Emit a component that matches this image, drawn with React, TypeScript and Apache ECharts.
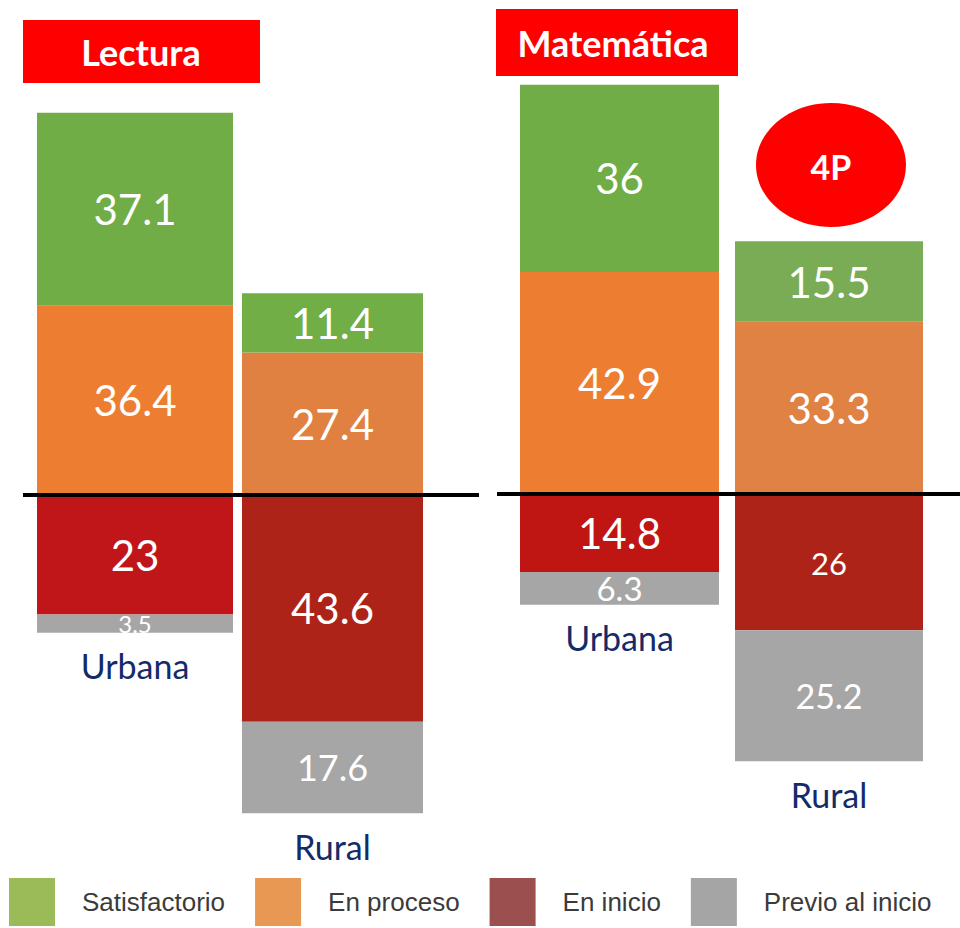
import React, { useEffect, useRef } from "react";
import * as echarts from "echarts";

// ---- data ----
const levels = ["Satisfactorio", "En proceso", "En inicio", "Previo al inicio"];
const subjects = ["Lectura", "Matemática"];
const areas = ["Urbana", "Rural"];
// order of bars: Lectura-Urbana, Lectura-Rural, Matemática-Urbana, Matemática-Rural
const satisfactorio = [37.1, 11.4, 36, 15.5];
const enProceso = [36.4, 27.4, 42.9, 33.3];
const enInicio = [23, 43.6, 14.8, 26];
const previo = [3.5, 17.6, 6.3, 25.2];
const badgeText = "4P";

// ---- styles ----
const barColors = [
  { sat: "#70AD47", proc: "#ED7D31", ini: "#C0161A", prev: "#A6A6A6" },
  { sat: "#72AE46", proc: "#E08142", ini: "#AD2318", prev: "#A6A6A6" },
  { sat: "#70AD47", proc: "#ED7D31", ini: "#BF1613", prev: "#A6A6A6" },
  { sat: "#7AAB55", proc: "#E08243", ini: "#AD2318", prev: "#A6A6A6" },
];
const legendColors = ["#9BBB59", "#E99854", "#9B4F4E", "#A5A5A5"];
const gridBoxes = [
  { left: 37, width: 196 },
  { left: 242, width: 181 },
  { left: 520, width: 199 },
  { left: 735, width: 188 },
];
const labelSizes = [
  [42, 42, 42, 24],
  [42, 42, 42, 36],
  [42, 42, 42, 33],
  [42, 42, 31, 34],
];
const GRID_TOP = 53;
const GRID_HEIGHT = 780;
const Y_MIN = -65;
const Y_MAX = 85;
const NUM_FONT = "Lato, 'Open Sans', sans-serif";
const TITLE_FONT = "bold 36px Lato, 'Open Sans', sans-serif";

export default function App() {
  const ref = useRef<HTMLDivElement>(null);

  useEffect(() => {
    if (!ref.current) return;
    const chart = echarts.init(ref.current, undefined, { renderer: "svg" });

    const grids: any[] = [];
    const xAxes: any[] = [];
    const yAxes: any[] = [];
    const series: any[] = [];

    for (let i = 0; i < 4; i++) {
      const area = areas[i % 2];
      grids.push({ left: gridBoxes[i].left, width: gridBoxes[i].width, top: GRID_TOP, height: GRID_HEIGHT });
      xAxes.push({ type: "category", gridIndex: i, data: [area], show: false });
      yAxes.push({ type: "value", gridIndex: i, min: Y_MIN, max: Y_MAX, show: false, splitLine: { show: false } });
      const c = barColors[i];
      const mk = (name: string, val: number, color: string, size: number) => ({
        type: "bar",
        name,
        xAxisIndex: i,
        yAxisIndex: i,
        stack: "s" + i,
        barWidth: "100%",
        barGap: "-100%",
        itemStyle: { color },
        label: {
          show: true,
          position: "inside",
          color: "#ffffff",
          fontSize: size,
          fontFamily: NUM_FONT,
          formatter: (p: any) => String(Math.abs(p.value)),
        },
        data: [val],
      });
      series.push(mk("En proceso", enProceso[i], c.proc, labelSizes[i][1]));
      series.push(mk("Satisfactorio", satisfactorio[i], c.sat, labelSizes[i][0]));
      series.push(mk("En inicio", -enInicio[i], c.ini, labelSizes[i][2]));
      series.push(mk("Previo al inicio", -previo[i], c.prev, labelSizes[i][3]));
      // category name below the bar
      series.push({
        type: "bar",
        name: "cat" + i,
        xAxisIndex: i,
        yAxisIndex: i,
        barWidth: "100%",
        barGap: "-100%",
        silent: true,
        z: 1,
        itemStyle: { color: "rgba(0,0,0,0)" },
        label: {
          show: true,
          position: "bottom",
          distance: 16,
          formatter: "{b}",
          color: "#142B69",
          fontSize: 34,
          fontFamily: NUM_FONT,
        },
        data: [-(enInicio[i] + previo[i])],
      });
    }

    chart.setOption({
      animation: false,
      backgroundColor: "#ffffff",
      grid: grids,
      xAxis: xAxes,
      yAxis: yAxes,
      legend: {
        data: levels.map((n, k) => ({ name: n, itemStyle: { color: legendColors[k] } })),
        icon: "rect",
        left: 9,
        top: 878,
        padding: 0,
        itemWidth: 46,
        itemHeight: 48,
        itemGap: 30,
        selectedMode: false,
        textStyle: {
          fontFamily: "'Liberation Sans', Arial, sans-serif",
          fontSize: 26,
          color: "#3b3b3b",
          padding: [10, 0, 0, 22],
        },
      },
      series,
    });

    const y0 = chart.convertToPixel({ yAxisIndex: 0 }, 0) as number;
    const y2 = chart.convertToPixel({ yAxisIndex: 2 }, 0) as number;

    chart.setOption({
      graphic: {
        elements: [
          { type: "rect", shape: { x: 23, y: 20, width: 237, height: 63 }, style: { fill: "#FF0000" } },
          {
            type: "text",
            x: 141,
            y: 52,
            style: { text: subjects[0], fill: "#ffffff", font: TITLE_FONT, align: "center", verticalAlign: "middle" },
          },
          { type: "rect", shape: { x: 496, y: 9, width: 242, height: 67 }, style: { fill: "#FF0000" } },
          {
            type: "text",
            x: 613,
            y: 43,
            style: { text: subjects[1], fill: "#ffffff", font: TITLE_FONT, align: "center", verticalAlign: "middle" },
          },
          { type: "ellipse", shape: { cx: 831, cy: 165, rx: 75, ry: 62 }, style: { fill: "#FF0000" } },
          {
            type: "text",
            x: 831,
            y: 166,
            style: {
              text: badgeText,
              fill: "#ffffff",
              font: "bold 34px Lato, 'Open Sans', sans-serif",
              align: "center",
              verticalAlign: "middle",
            },
          },
          {
            type: "line",
            z: 100,
            shape: { x1: 23, y1: y0, x2: 479, y2: y0 },
            style: { stroke: "#000000", lineWidth: 4 },
          },
          {
            type: "line",
            z: 100,
            shape: { x1: 497, y1: y2 - 1, x2: 960, y2: y2 - 1 },
            style: { stroke: "#000000", lineWidth: 4 },
          },
        ],
      },
    });

    return () => chart.dispose();
  }, []);

  return <div ref={ref} style={{ position: "fixed", left: 0, top: 0, width: 960, height: 928 }} />;
}
